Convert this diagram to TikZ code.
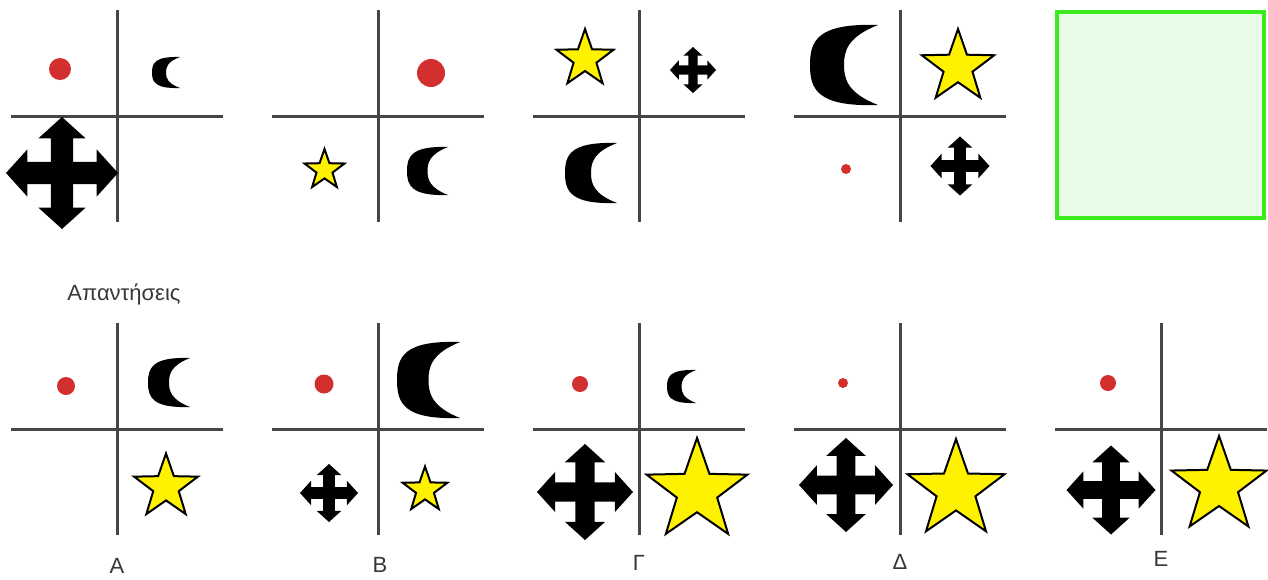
\documentclass[tikz,border=0pt]{standalone}
\usepackage{fontspec}
\setmainfont{Liberation Sans}
\usetikzlibrary{shapes.geometric}
\definecolor{dotred}{RGB}{211,47,47}
\definecolor{axisgray}{RGB}{70,70,70}
\definecolor{boxgreen}{RGB}{60,235,30}
\definecolor{boxfill}{RGB}{232,252,232}
\definecolor{labelgray}{RGB}{55,55,55}

\begin{document}
\begin{tikzpicture}[x=0.5pt,y=-0.5pt,
  axis/.style={draw=axisgray,line width=1.5pt},
  dot/.style={circle,fill=dotred,inner sep=0pt},
  starbox/.style={star,star points=5,star point ratio=2.5,draw=black,fill=yellow,line width=1pt,inner sep=0pt},
  lbl/.style={font=\fontsize{11}{13}\selectfont,text=labelgray,inner sep=0pt},
  pics/moon/.style={code={
    \fill[black] (0.5,-1) .. controls (-0.4,-1.05) and (-0.5,-0.6) .. (-0.5,0)
      .. controls (-0.5,0.6) and (-0.4,1.05) .. (0.5,1)
      .. controls (0.05,0.7) and (0,0.35) .. (0,0)
      .. controls (0,-0.35) and (0.05,-0.7) .. cycle;}},
  pics/arrows4/.style={code={
    \foreach \r in {0,90,180,270}
      \fill[black,rotate=\r] (-0.2,0) -- (-0.2,0.62) -- (-0.42,0.62) -- (0,1) -- (0.42,0.62) -- (0.2,0.62) -- (0.2,0) -- cycle;}}]
  \useasboundingbox (0,0) rectangle (1268,579);

  % quadrant axes
  \foreach \cx/\cy in {117/116,378/116,639/116,900/116,117/429,378/429,639/429,900/429,1161/429} {
    \draw[axis] (\cx-106,\cy) -- (\cx+106,\cy);
    \draw[axis] (\cx,\cy-106) -- (\cx,\cy+106);
  }

  % top row
  \node[dot,minimum size=11pt] (dot1) at (60,69) {};
  \pic[xscale=28,yscale=15.5] (moon1) at (166,72.5) {moon};
  \pic[scale=56] (cross1) at (62,173) {arrows4};

  \node[dot,minimum size=14pt] (dot2) at (431,73) {};
  \node[starbox,minimum size=21pt] (star2) at (324.5,170) {};
  \pic[xscale=41,yscale=24] (moon2) at (427.5,171) {moon};

  \node[starbox,minimum size=30pt] (star3) at (585,59) {};
  \pic[scale=23] (cross3) at (693,70) {arrows4};
  \pic[xscale=52,yscale=30] (moon3) at (591,173) {moon};

  \pic[xscale=68,yscale=40] (moon4) at (844,65) {moon};
  \node[starbox,minimum size=38pt] (star4) at (958,67) {};
  \node[dot,minimum size=5pt] (dot4) at (846,169) {};
  \pic[scale=29.5] (cross4) at (960,166) {arrows4};

  \node[draw=boxgreen,fill=boxfill,line width=2pt,minimum width=103.5pt,minimum height=103pt] (answerbox) at (1160.5,115) {};

  % answers
  \node[lbl] (answers) at (124,294) {Απαντήσεις};

  \node[dot,minimum size=9pt] (dotA) at (66,386) {};
  \pic[xscale=42,yscale=24.5] (moonA) at (169,382.5) {moon};
  \node[starbox,minimum size=33.5pt] (starA) at (166,487) {};
  \node[lbl] (lblA) at (117,566) {Α};

  \node[dot,minimum size=9.5pt] (dotB) at (324,384) {};
  \pic[xscale=63,yscale=38] (moonB) at (428.5,380) {moon};
  \pic[scale=29] (crossB) at (329,493) {arrows4};
  \node[starbox,minimum size=23.5pt] (starB) at (425,490) {};
  \node[lbl] (lblB) at (380,565) {Β};

  \node[dot,minimum size=8pt] (dotC) at (580,384) {};
  \pic[xscale=29,yscale=16.5] (moonC) at (681.5,386.5) {moon};
  \pic[scale=48] (crossC) at (585,492) {arrows4};
  \node[starbox,minimum size=53pt] (starC) at (697,491) {};
  \node[lbl] (lblC) at (639,563) {Γ};

  \node[dot,minimum size=5pt] (dotD) at (843,383) {};
  \pic[scale=47] (crossD) at (846,485) {arrows4};
  \node[starbox,minimum size=51pt] (starD) at (956,490) {};
  \node[lbl] (lblD) at (900,562) {Δ};

  \node[dot,minimum size=8pt] (dotE) at (1108,383) {};
  \pic[scale=44.5] (crossE) at (1111,490) {arrows4};
  \node[starbox,minimum size=50pt] (starE) at (1219,486) {};
  \node[lbl] (lblE) at (1161,559) {Ε};
\end{tikzpicture}
\end{document}
